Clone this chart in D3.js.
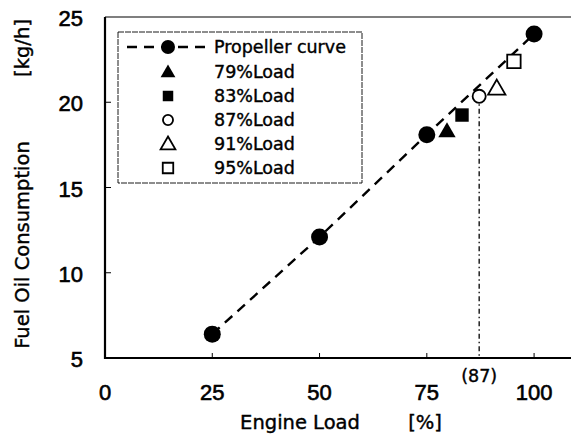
<!DOCTYPE html>
<html lang="en">
<head>
<meta charset="UTF-8" />
<title>Fuel Oil Consumption vs Engine Load</title>
<script src="https://d3js.org/d3.v7.min.js"></script>
<style>
  body { margin: 0; background: #fff; }
  svg { display: block; }
  .tick-label { font-family: 'Liberation Sans', sans-serif; font-size: 22px; fill: #000; stroke: #000; stroke-width: 0.6px; }
  .title { font-family: 'DejaVu Sans', sans-serif; font-size: 19.5px; fill: #000; stroke: #000; stroke-width: 0.4px; }
  .legend-text { font-family: 'DejaVu Sans', sans-serif; font-size: 17.5px; fill: #000; stroke: #000; stroke-width: 0.4px; }
</style>
</head>
<body>
<div id="chart"></div>
<script>
// propeller curve
const propLoad = [25, 50, 75, 100];
const propFuel = [6.4, 12.1, 18.1, 24.0];

// test points
const testNames = ['79%Load', '83%Load', '87%Load', '91%Load', '95%Load'];
const testLoad = [79.7, 83.2, 87.2, 91.3, 95.3];
const testFuel = [18.3, 19.25, 20.35, 20.8, 22.4];
const testShape = ['triangle', 'square', 'circle', 'triangle', 'square'];
const testFilled = [true, true, false, false, false];

const xTicks = [0, 25, 50, 75, 100];
const yTicks = [5, 10, 15, 20, 25];

const width = 571, height = 439;

const svg = d3.select('#chart').append('svg')
  .attr('width', width).attr('height', height);

const x = d3.scaleLinear().domain([0, 110]).range([105, 577]);
const y = d3.scaleLinear().domain([5, 25]).range([358, 17]);

// frame: top line thin, left + bottom thick
svg.append('line')
  .attr('x1', x(0)).attr('x2', width).attr('y1', y(25)).attr('y2', y(25))
  .attr('stroke', '#000').attr('stroke-width', 1.2);
svg.append('line')
  .attr('x1', x(0)).attr('x2', x(0)).attr('y1', y(25)).attr('y2', y(5) + 1)
  .attr('stroke', '#000').attr('stroke-width', 2.2);
svg.append('line')
  .attr('x1', x(0) - 1).attr('x2', width).attr('y1', y(5)).attr('y2', y(5))
  .attr('stroke', '#000').attr('stroke-width', 2.2);

// inner tick marks
svg.selectAll('.ytick').data(yTicks.slice(1, 4)).enter().append('line')
  .attr('x1', x(0)).attr('x2', x(0) + 6)
  .attr('y1', d => y(d)).attr('y2', d => y(d))
  .attr('stroke', '#000').attr('stroke-width', 1);
svg.selectAll('.xtick').data(xTicks.slice(1)).enter().append('line')
  .attr('x1', d => x(d)).attr('x2', d => x(d))
  .attr('y1', y(5)).attr('y2', y(5) - 5)
  .attr('stroke', '#000').attr('stroke-width', 1);

// tick labels
svg.selectAll('.ylab').data(yTicks).enter().append('text')
  .attr('class', 'tick-label')
  .attr('x', 83).attr('y', d => y(d) + 9)
  .attr('text-anchor', 'end')
  .text(d => d);
svg.selectAll('.xlab').data(xTicks).enter().append('text')
  .attr('class', 'tick-label')
  .attr('x', d => x(d)).attr('y', 400)
  .attr('text-anchor', 'middle')
  .text(d => d);

// axis titles
svg.append('text').attr('class', 'title')
  .attr('x', 300).attr('y', 429).attr('text-anchor', 'middle')
  .text('Engine Load');
svg.append('text').attr('class', 'title')
  .attr('x', 425).attr('y', 429).attr('text-anchor', 'middle')
  .text('[%]');
svg.append('text').attr('class', 'title')
  .attr('transform', 'translate(29,245) rotate(-90)')
  .attr('text-anchor', 'middle')
  .text('Fuel Oil Consumption');
svg.append('text').attr('class', 'title')
  .attr('transform', 'translate(29,48) rotate(-90)')
  .attr('text-anchor', 'middle')
  .text('[kg/h]');

// vertical marker at 87%
svg.append('line')
  .attr('x1', x(87.2)).attr('x2', x(87.2))
  .attr('y1', y(20.35)).attr('y2', y(5))
  .attr('stroke', '#000').attr('stroke-width', 1.3)
  .attr('stroke-dasharray', '5,3,1.5,3');
svg.append('text').attr('class', 'legend-text')
  .attr('x', x(87.2)).attr('y', 382).attr('text-anchor', 'middle')
  .text('(87)');

// propeller dashed line
const line = d3.line().x(d => x(d[0])).y(d => y(d[1]));
svg.append('path')
  .datum(propLoad.map((d, i) => [d, propFuel[i]]))
  .attr('d', line)
  .attr('fill', 'none').attr('stroke', '#000')
  .attr('stroke-width', 2.4).attr('stroke-dasharray', '10,7');

svg.selectAll('.prop').data(propLoad).enter().append('circle')
  .attr('cx', d => x(d)).attr('cy', (d, i) => y(propFuel[i]))
  .attr('r', 8.5).attr('fill', '#000');

function symbolPath(shape, size) {
  const t = shape === 'triangle' ? d3.symbolTriangle : shape === 'square' ? d3.symbolSquare : d3.symbolCircle;
  return d3.symbol().type(t).size(size)();
}
const sizes = { triangle: 130, square: 180, circle: 135 };

svg.selectAll('.test').data(testLoad).enter().append('path')
  .attr('transform', (d, i) => `translate(${x(d)},${y(testFuel[i]) + (testShape[i] === 'triangle' ? 1 : 0)})`)
  .attr('d', (d, i) => symbolPath(testShape[i], sizes[testShape[i]]))
  .attr('fill', (d, i) => testFilled[i] ? '#000' : '#fff')
  .attr('stroke', '#000').attr('stroke-width', (d, i) => testFilled[i] ? 0 : 1.8);

// legend
const lg = svg.append('g');
lg.append('rect')
  .attr('x', 118).attr('y', 32).attr('width', 244).attr('height', 151)
  .attr('fill', '#fff').attr('stroke', '#000').attr('stroke-width', 0.9)
  .attr('stroke-dasharray', '6,1');
const rowY = [47, 72, 96, 120, 144, 168];
lg.append('line')
  .attr('x1', 127).attr('x2', 207).attr('y1', rowY[0]).attr('y2', rowY[0])
  .attr('stroke', '#000').attr('stroke-width', 2.4).attr('stroke-dasharray', '10,7');
lg.append('circle').attr('cx', 168).attr('cy', rowY[0]).attr('r', 7).attr('fill', '#000');
lg.append('text').attr('class', 'legend-text')
  .attr('x', 214).attr('y', rowY[0] + 6).text('Propeller curve');
testNames.forEach((name, i) => {
  const shape = testShape[i];
  lg.append('path')
    .attr('transform', `translate(168,${rowY[i + 1] + (shape === 'triangle' ? 1 : 0)})`)
    .attr('d', symbolPath(shape, shape === 'circle' ? 80 : shape === 'square' ? 110 : 95))
    .attr('fill', testFilled[i] ? '#000' : '#fff')
    .attr('stroke', '#000').attr('stroke-width', testFilled[i] ? 0 : 1.8);
  lg.append('text').attr('class', 'legend-text')
    .attr('x', 214).attr('y', rowY[i + 1] + 6).text(name);
});
</script>
</body>
</html>
